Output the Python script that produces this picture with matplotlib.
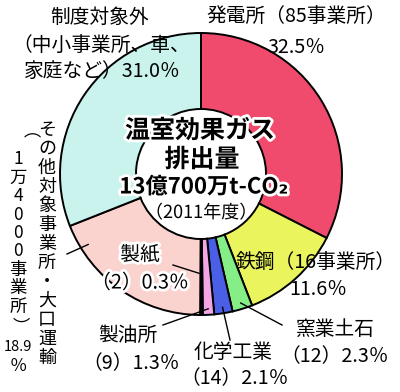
import matplotlib
matplotlib.use('Agg')
import matplotlib.pyplot as plt
import matplotlib.patheffects as pe
import numpy as np

plt.rcParams['font.family'] = ['Noto Sans CJK JP', 'DejaVu Sans']

# data (share of emissions, %), clockwise from 12 o'clock
sectors = ['発電所', '鉄鋼', '窯業土石', '化学工業', '製油所', '製紙',
           'その他対象事業所・大口運輸', '制度対象外']
shares = [32.5, 11.6, 2.3, 2.1, 1.3, 0.3, 18.9, 31.0]
sites = ['85事業所', '16事業所', '12', '14', '9', '2', '1万4000事業所', '']
colors = ['#f04a6c', '#eaf55e', '#86ee86', '#4a5fe6', '#f2a6e6', '#111111',
          '#fad3ce', '#c9f3ec']

total_label = '13億700万t-CO₂'
year_label = '（2011年度）'

fig = plt.figure(figsize=(4.0, 3.92), dpi=100)
ax = fig.add_axes([0, 0, 1, 1])

cx, cy = 201, 174
R, W = 141, 76

# y axis is flipped below, so counterclockwise in data = clockwise on screen
ax.pie(shares, colors=colors, startangle=-90, counterclock=True,
       center=(cx, cy), radius=R,
       wedgeprops=dict(width=W, edgecolor='black', linewidth=1.4))
ax.set_xlim(0, 400)
ax.set_ylim(392, 0)
ax.set_aspect('equal')
ax.axis('off')

# wedge angles (degrees clockwise from top)
edges = np.concatenate([[0], np.cumsum(shares)]) * 3.6
mids = (edges[:-1] + edges[1:]) / 2


def ring_point(theta, r):
    t = np.deg2rad(theta)
    return cx + r * np.sin(t), cy - r * np.cos(t)


fs = 14.2
halo = [pe.withStroke(linewidth=4, foreground='white')]


def lab(x, y, s, **kw):
    ax.text(x, y, s, ha='center', va='center', fontsize=kw.pop('fontsize', fs), **kw)


# labels
lab(100, 17, sectors[7])
lab(101, 45, '（中小事業所、車、')
lab(102, 71, f'家庭など）{shares[7]:.1f}％')

lab(296, 16, f'{sectors[0]}（{sites[0]}）')
lab(296, 47, f'{shares[0]:.1f}％')

lab(316, 262, f'{sectors[1]}（{sites[1]}）')
lab(318, 289, f'{shares[1]:.1f}％')

lab(335, 329, sectors[2])
lab(335, 357, f'（{sites[2]}）{shares[2]:.1f}％')

lab(233, 352, sectors[3])
lab(235, 379, f'（{sites[3]}）{shares[3]:.1f}％')

lab(128, 335, sectors[4])
lab(131, 364, f'（{sites[4]}）{shares[4]:.1f}％')

lab(140, 255, sectors[5], path_effects=halo)
lab(140, 283, f'（{sites[5]}）{shares[5]:.1f}％', path_effects=halo)

# vertical labels for the "other" sector
for i, ch in enumerate(sectors[6]):
    lab(47, 130 + i * 19, ch, fontsize=13)
vert = '（' + sites[6] + '）'
for i, ch in enumerate(vert):
    rot = -90 if ch in '（）' else 0
    lab(18, 141 + i * 18.4, ch, rotation=rot, fontsize=12.5)
lab(18, 347, f'{shares[6]:.1f}', fontsize=10.5)
lab(18, 366, '％', fontsize=12.5)

# leader lines
leaders = [
    (mids[5], 100, (173, 265)),
    (mids[4], 135, (163, 325)),
    (mids[3], 135, (230, 340)),
    (mids[2], 135, (282, 325)),
    (238, 133, (67, 254)),
]
for theta, r, (tx, ty) in leaders:
    px, py = ring_point(theta, r)
    ax.plot([px, tx], [py, ty], color='black', lw=1.0)

# centre title
bold = dict(fontweight='bold', path_effects=[pe.withStroke(linewidth=4, foreground='white')])
lab(200, 131, '温室効果ガス', fontsize=18, **bold)
lab(202, 160, '排出量', fontsize=18, **bold)
lab(204, 187, total_label, fontsize=16, **bold)
lab(201, 213, year_label, fontsize=13,
    path_effects=[pe.withStroke(linewidth=3, foreground='white')])

fig.savefig('out.png', dpi=100)
